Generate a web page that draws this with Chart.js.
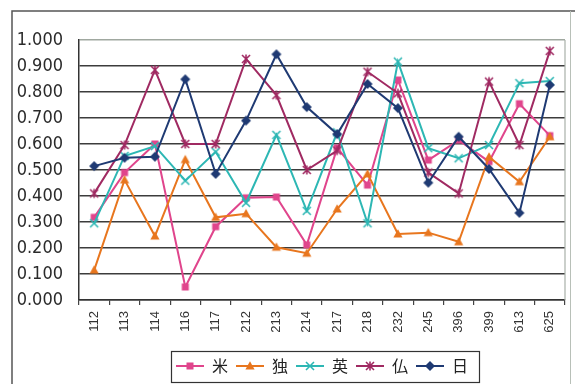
<!DOCTYPE html>
<html><head><meta charset="utf-8">
<script src="https://cdn.jsdelivr.net/npm/chart.js@4"></script>
<style>html,body{margin:0;padding:0;background:#fff}#wrap{width:575px;height:384px;position:relative}</style>
</head><body><div id="wrap"><canvas id="c" width="575" height="384"></canvas></div>
<script>
const categories = ['112','113','114','116','117','212','213','214','217','218','232','245','396','399','613','625'];
const seriesNames = ['米','独','英','仏','日'];
const usValues = [0.318,0.490,0.600,0.050,0.282,0.393,0.396,0.212,0.585,0.442,0.846,0.538,0.615,0.532,0.755,0.632];
const deValues = [0.115,0.462,0.246,0.540,0.318,0.332,0.203,0.180,0.350,0.485,0.254,0.259,0.224,0.550,0.455,0.628];
const ukValues = [0.295,0.554,0.592,0.459,0.570,0.374,0.635,0.343,0.645,0.295,0.917,0.584,0.545,0.596,0.834,0.842];
const frValues = [0.410,0.596,0.885,0.600,0.600,0.927,0.788,0.500,0.575,0.878,0.795,0.490,0.410,0.840,0.596,0.958];
const jpValues = [0.515,0.547,0.551,0.849,0.485,0.690,0.945,0.742,0.638,0.831,0.738,0.451,0.628,0.504,0.335,0.827];
const yTickValues = [0,0.1,0.2,0.3,0.4,0.5,0.6,0.7,0.8,0.9,1.0];

const seriesColors = ['#E0458C','#E8761E','#2DB7B4','#A02A62','#1F3A73'];
const markerKinds = ['square','triangle','cross','star','diamond'];
const allValues = [usValues, deValues, ukValues, frValues, jpValues];

function markerCanvas(kind, color, withLine){
  const w = withLine ? 28 : 12, h = 12;
  const c = document.createElement('canvas'); c.width = w; c.height = h;
  const g = c.getContext('2d');
  const cx = w/2, cy = h/2;
  if (withLine){ g.strokeStyle = color; g.lineWidth = 2; g.beginPath(); g.moveTo(0,cy); g.lineTo(w,cy); g.stroke(); }
  g.fillStyle = color; g.strokeStyle = color; g.lineWidth = 1.6;
  if (kind === 'square'){ g.fillRect(cx-3.5, cy-3.5, 7, 7); }
  else if (kind === 'triangle'){ g.beginPath(); g.moveTo(cx, cy-4.8); g.lineTo(cx+4.6, cy+3.6); g.lineTo(cx-4.6, cy+3.6); g.closePath(); g.fill(); }
  else if (kind === 'cross'){ g.beginPath(); g.moveTo(cx-4,cy-4); g.lineTo(cx+4,cy+4); g.moveTo(cx+4,cy-4); g.lineTo(cx-4,cy+4); g.stroke(); }
  else if (kind === 'star'){ g.beginPath(); g.moveTo(cx-4,cy-4); g.lineTo(cx+4,cy+4); g.moveTo(cx+4,cy-4); g.lineTo(cx-4,cy+4); g.moveTo(cx,cy-4.5); g.lineTo(cx,cy+4.5); g.stroke(); }
  else if (kind === 'diamond'){ g.beginPath(); g.moveTo(cx,cy-5); g.lineTo(cx+5,cy); g.lineTo(cx,cy+5); g.lineTo(cx-5,cy); g.closePath(); g.fill(); }
  return c;
}
const pointImages = markerKinds.map((k,i)=>markerCanvas(k, seriesColors[i], false));
const legendImages = markerKinds.map((k,i)=>markerCanvas(k, seriesColors[i], true));

const datasets = seriesNames.map((name,i)=>({
  label: name,
  data: allValues[i],
  borderColor: seriesColors[i],
  backgroundColor: seriesColors[i],
  borderWidth: 2,
  pointStyle: pointImages[i],
  pointRadius: 5,
  tension: 0,
  order: 4 - i
}));

const framePlugin = {
  id: 'frame',
  afterLayout(chart){
    const lg = chart.legend;
    if (lg){ lg.left = chart.chartArea.left; lg.right = chart.chartArea.right; }
  },
  beforeDraw(chart){
    const ctx = chart.ctx;
    ctx.save();
    ctx.fillStyle = '#fff'; ctx.fillRect(0,0,chart.width,chart.height);
    ctx.lineWidth = 1.5;
    ctx.strokeStyle = '#555';
    ctx.beginPath(); ctx.moveTo(12, chart.height+2); ctx.lineTo(12, 11); ctx.lineTo(chart.width, 11); ctx.stroke();
    ctx.strokeStyle = '#b8c0b8'; ctx.lineWidth = 1;
    ctx.beginPath(); ctx.moveTo(570.5, 11); ctx.lineTo(570.5, chart.height); ctx.stroke();
    ctx.restore();
  },
  beforeDatasetsDraw(chart){
    const ctx = chart.ctx, a = chart.chartArea;
    ctx.save();
    ctx.strokeStyle = '#a8b0a8'; ctx.lineWidth = 1.2;
    ctx.beginPath(); ctx.moveTo(a.right, a.top); ctx.lineTo(a.right, a.bottom); ctx.stroke();
    ctx.restore();
  },
  afterDraw(chart){
    const lg = chart.legend; if (!lg || !lg.legendHitBoxes || !lg.legendHitBoxes.length) return;
    const hb = lg.legendHitBoxes, f = hb[0], l = hb[hb.length-1];
    const cy = f.top + f.height/2;
    const ctx = chart.ctx;
    ctx.save();
    ctx.strokeStyle = '#333'; ctx.lineWidth = 1.2;
    ctx.strokeRect(Math.round(f.left - 5)+0.5, Math.round(cy - 15.5)+0.5, Math.round(l.left + l.width + 11 - (f.left - 5)), 31);
    ctx.restore();
  }
};

new Chart(document.getElementById('c'), {
  type: 'line',
  data: { labels: categories, datasets },
  options: {
    responsive: false,
    animation: false,
    devicePixelRatio: 1,
    layout: { padding: { top: 40, right: 10, bottom: 0, left: 0 } },
    plugins: {
      tooltip: { enabled: false },
      legend: {
        position: 'bottom',
        labels: {
          usePointStyle: true,
          pointStyleWidth: 28,
          padding: 8,
          color: '#222',
          font: { family: "'Noto Sans CJK JP', sans-serif", size: 16 },
          generateLabels(chart){
            return chart.data.datasets.map((ds,i)=>({
              text: ds.label, pointStyle: legendImages[i], fillStyle: ds.borderColor,
              strokeStyle: ds.borderColor, lineWidth: 0, hidden: false, datasetIndex: i, fontColor: '#222'
            }));
          }
        }
      }
    },
    scales: {
      x: {
        offset: true,
        grid: { offset: true, drawOnChartArea: false, drawTicks: true, tickLength: 5, color: '#444', lineWidth: 1.2 },
        border: { display: true, color: '#333', width: 1.5 },
        ticks: { autoSkip: false, maxRotation: 90, minRotation: 90, padding: 6, color: '#333',
                 font: { family: "'Liberation Sans', Arial, sans-serif", size: 13 } },
        afterFit(s){ s.height = 50; }
      },
      y: {
        min: 0, max: 1,
        afterBuildTicks(s){ s.ticks = yTickValues.map(v=>({value:v})); },
        ticks: { padding: 16, color: '#2a2a2a',
                 font: { family: "'Liberation Sans Narrow', 'DejaVu Sans Condensed', sans-serif", size: 18 },
                 callback: v => Number(v).toFixed(3) },
        grid: { drawTicks: false, lineWidth: 1.5, color: c => (c.tick && c.tick.value >= 0.999) ? '#a0a8a0' : '#3c3c3c' },
        border: { color: '#333', width: 1.5 },
        afterFit(s){ s.width = 79; }
      }
    }
  },
  plugins: [framePlugin]
});
</script>
</body></html>
